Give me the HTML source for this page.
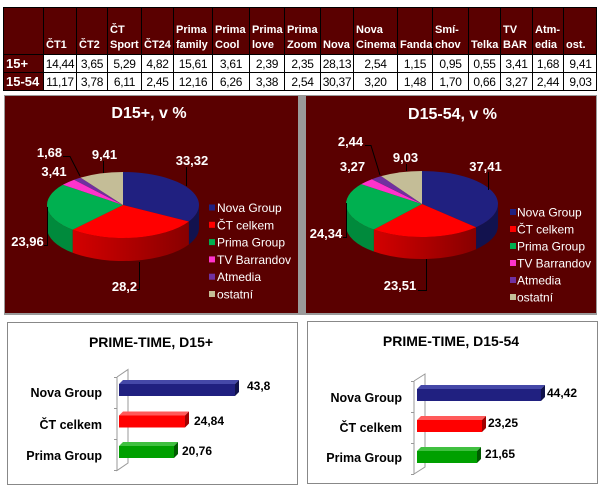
<!DOCTYPE html>
<html><head><meta charset="utf-8"><style>
html,body{margin:0;padding:0;background:#fff;}
svg{display:block;}
text{font-family:"Liberation Sans","DejaVu Sans",sans-serif;}
.h{font-size:11px;font-weight:bold;fill:#fff;}
.d{font-size:12px;fill:#000;text-anchor:middle;letter-spacing:-0.3px;}
.r{font-size:13px;font-weight:bold;fill:#fff;}
.pl{font-size:13px;font-weight:bold;fill:#fff;}
.lg{font-size:12px;fill:#fff;}
.bt{font-size:14px;font-weight:bold;fill:#000;text-anchor:middle;}
.cat{font-size:12.5px;font-weight:bold;fill:#000;text-anchor:end;}
.bv{font-size:12px;font-weight:bold;fill:#000;}
</style></head><body>
<svg width="602" height="488" viewBox="0 0 602 488" xmlns="http://www.w3.org/2000/svg">
<defs>
<linearGradient id="rs1" x1="72" y1="0" x2="189" y2="0" gradientUnits="userSpaceOnUse"><stop offset="0" stop-color="#d40000"/><stop offset="1" stop-color="#880000"/></linearGradient>
<linearGradient id="rs2" x1="373" y1="0" x2="476" y2="0" gradientUnits="userSpaceOnUse"><stop offset="0" stop-color="#d40000"/><stop offset="1" stop-color="#880000"/></linearGradient>
</defs>
<rect width="602" height="488" fill="#fff"/>

<!-- TABLE -->
<rect x="3" y="7" width="594" height="47" fill="#5a0000"/>
<rect x="3" y="54" width="40" height="37" fill="#5a0000"/>
<g stroke="#000" stroke-width="1">
<line x1="3" y1="7.5" x2="597" y2="7.5"/>
<line x1="3" y1="54.5" x2="597" y2="54.5"/>
<line x1="3" y1="72.5" x2="597" y2="72.5"/>
<line x1="3" y1="90.5" x2="597" y2="90.5"/>
<line x1="3.5" y1="7" x2="3.5" y2="91"/>
<line x1="43.5" y1="7" x2="43.5" y2="91"/>
<line x1="76.5" y1="7" x2="76.5" y2="91"/>
<line x1="107.5" y1="7" x2="107.5" y2="91"/>
<line x1="141.5" y1="7" x2="141.5" y2="91"/>
<line x1="173.5" y1="7" x2="173.5" y2="91"/>
<line x1="212.5" y1="7" x2="212.5" y2="91"/>
<line x1="249.5" y1="7" x2="249.5" y2="91"/>
<line x1="284.5" y1="7" x2="284.5" y2="91"/>
<line x1="320.5" y1="7" x2="320.5" y2="91"/>
<line x1="353.5" y1="7" x2="353.5" y2="91"/>
<line x1="397.5" y1="7" x2="397.5" y2="91"/>
<line x1="432.5" y1="7" x2="432.5" y2="91"/>
<line x1="468.5" y1="7" x2="468.5" y2="91"/>
<line x1="500.5" y1="7" x2="500.5" y2="91"/>
<line x1="532.5" y1="7" x2="532.5" y2="91"/>
<line x1="563.5" y1="7" x2="563.5" y2="91"/>
<line x1="596.5" y1="7" x2="596.5" y2="91"/>
</g>
<!-- header labels -->
<text class="h" x="46" y="48">ČT1</text>
<text class="h" x="79" y="48">ČT2</text>
<text class="h" x="110" y="33">ČT</text><text class="h" x="110" y="48">Sport</text>
<text class="h" x="144" y="48">ČT24</text>
<text class="h" x="176" y="33">Prima</text><text class="h" x="176" y="48">family</text>
<text class="h" x="215" y="33">Prima</text><text class="h" x="215" y="48">Cool</text>
<text class="h" x="252" y="33">Prima</text><text class="h" x="252" y="48">love</text>
<text class="h" x="287" y="33">Prima</text><text class="h" x="287" y="48">Zoom</text>
<text class="h" x="323" y="48">Nova</text>
<text class="h" x="356" y="33">Nova</text><text class="h" x="356" y="48">Cinema</text>
<text class="h" x="400" y="48">Fanda</text>
<text class="h" x="435" y="33">Smí-</text><text class="h" x="435" y="48">chov</text>
<text class="h" x="471" y="48">Telka</text>
<text class="h" x="503" y="33">TV</text><text class="h" x="503" y="48">BAR</text>
<text class="h" x="535" y="33">Atm-</text><text class="h" x="535" y="48">edia</text>
<text class="h" x="566" y="48">ost.</text>
<text class="r" x="6" y="68">15+</text>
<text class="r" x="6" y="86">15-54</text>
<!-- row 1 -->
<text class="d" x="60" y="68">14,44</text>
<text class="d" x="92" y="68">3,65</text>
<text class="d" x="124.5" y="68">5,29</text>
<text class="d" x="157.5" y="68">4,82</text>
<text class="d" x="193" y="68">15,61</text>
<text class="d" x="231" y="68">3,61</text>
<text class="d" x="267" y="68">2,39</text>
<text class="d" x="302.5" y="68">2,35</text>
<text class="d" x="337" y="68">28,13</text>
<text class="d" x="375.5" y="68">2,54</text>
<text class="d" x="415" y="68">1,15</text>
<text class="d" x="450.5" y="68">0,95</text>
<text class="d" x="484.5" y="68">0,55</text>
<text class="d" x="516.5" y="68">3,41</text>
<text class="d" x="548" y="68">1,68</text>
<text class="d" x="580.5" y="68">9,41</text>
<!-- row 2 -->
<text class="d" x="60" y="86">11,17</text>
<text class="d" x="92" y="86">3,78</text>
<text class="d" x="124.5" y="86">6,11</text>
<text class="d" x="157.5" y="86">2,45</text>
<text class="d" x="193" y="86">12,16</text>
<text class="d" x="231" y="86">6,26</text>
<text class="d" x="267" y="86">3,38</text>
<text class="d" x="302.5" y="86">2,54</text>
<text class="d" x="337" y="86">30,37</text>
<text class="d" x="375.5" y="86">3,20</text>
<text class="d" x="415" y="86">1,48</text>
<text class="d" x="450.5" y="86">1,70</text>
<text class="d" x="484.5" y="86">0,66</text>
<text class="d" x="516.5" y="86">3,27</text>
<text class="d" x="548" y="86">2,44</text>
<text class="d" x="580.5" y="86">9,03</text>

<!-- PIE PANELS -->
<rect x="4" y="95" width="593" height="220" fill="#9a9a9a"/>
<rect x="5" y="96" width="293" height="217" fill="#5a0000"/>
<rect x="306" y="96" width="290" height="217" fill="#5a0000"/>

<!-- Pie 1 -->
<text x="149" y="118" font-size="16" font-weight="bold" fill="#fff" text-anchor="middle">D15+, v %</text>
<path d="M199,205 A76,33 0 0 1 188.85,221.47 L188.85,244.47 A76,33 0 0 0 199,228 Z" fill="#12124e"/>
<path d="M188.85,221.47 A76,33 0 0 1 72.67,229.73 L72.67,252.73 A76,33 0 0 0 188.85,244.47 Z" fill="url(#rs1)"/>
<path d="M72.67,229.73 A76,33 0 0 1 47,205 L47,228 A76,33 0 0 0 72.67,252.73 Z" fill="#008a3c"/>
<path d="M123,205 L123,172 A76,33 0 0 1 188.85,221.47 Z" fill="#202080"/>
<path d="M123,205 L188.85,221.47 A76,33 0 0 1 72.67,229.73 Z" fill="#ff0000"/>
<path d="M123,205 L72.67,229.73 A76,33 0 0 1 62.88,184.81 Z" fill="#00b050"/>
<path d="M123,205 L62.88,184.81 A76,33 0 0 1 74.15,179.72 Z" fill="#ff33cc"/>
<path d="M123,205 L74.15,179.72 A76,33 0 0 1 80.56,177.63 Z" fill="#7030a0"/>
<path d="M123,205 L80.56,177.63 A76,33 0 0 1 123,172 Z" fill="#c4bd97"/>
<g stroke="#000" stroke-width="1" fill="none">
<polyline points="186.5,167 186.5,186"/>
<polyline points="136,289.5 139.5,289.5 139.5,262"/>
<polyline points="44,245.5 47.5,245.5 47.5,207"/>
<polyline points="63,156.5 70,156.5 80,176"/>
<polyline points="103.5,161 103.5,173"/>
</g>
<text class="pl" x="192" y="165" text-anchor="middle">33,32</text>
<text class="pl" x="124.5" y="291" text-anchor="middle">28,2</text>
<text class="pl" x="27.5" y="246" text-anchor="middle">23,96</text>
<text class="pl" x="49.5" y="157" text-anchor="middle">1,68</text>
<text class="pl" x="54" y="176" text-anchor="middle">3,41</text>
<text class="pl" x="104.5" y="159" text-anchor="middle">9,41</text>
<!-- legend 1 -->
<rect x="209" y="204.5" width="6" height="6" fill="#202080"/><text class="lg" x="217" y="212">Nova Group</text>
<rect x="209" y="221.8" width="6" height="6" fill="#ff0000"/><text class="lg" x="217" y="229.3">ČT celkem</text>
<rect x="209" y="239.1" width="6" height="6" fill="#00b050"/><text class="lg" x="217" y="246.6">Prima Group</text>
<rect x="209" y="256.4" width="6" height="6" fill="#ff33cc"/><text class="lg" x="217" y="263.9">TV Barrandov</text>
<rect x="209" y="273.7" width="6" height="6" fill="#7030a0"/><text class="lg" x="217" y="281.2">Atmedia</text>
<rect x="209" y="291" width="6" height="6" fill="#c4bd97"/><text class="lg" x="217" y="298.5">ostatní</text>

<!-- Pie 2 -->
<text x="452.5" y="119" font-size="16" font-weight="bold" fill="#fff" text-anchor="middle">D15-54, v %</text>
<path d="M498,204 A76,33 0 0 1 476.04,227.2 L476.04,249.2 A76,33 0 0 0 498,226 Z" fill="#12124e"/>
<path d="M476.04,227.2 A76,33 0 0 1 373.86,229.54 L373.86,251.54 A76,33 0 0 0 476.04,249.2 Z" fill="url(#rs2)"/>
<path d="M373.86,229.54 A76,33 0 0 1 346,204 L346,226 A76,33 0 0 0 373.86,251.54 Z" fill="#008a3c"/>
<path d="M422,204 L422,171 A76,33 0 0 1 476.04,227.2 Z" fill="#202080"/>
<path d="M422,204 L476.04,227.2 A76,33 0 0 1 373.86,229.54 Z" fill="#ff0000"/>
<path d="M422,204 L373.86,229.54 A76,33 0 0 1 361.24,184.18 Z" fill="#00b050"/>
<path d="M422,204 L361.24,184.18 A76,33 0 0 1 371.84,179.21 Z" fill="#ff33cc"/>
<path d="M422,204 L371.84,179.21 A76,33 0 0 1 381.16,176.17 Z" fill="#7030a0"/>
<path d="M422,204 L381.16,176.17 A76,33 0 0 1 422,171 Z" fill="#c4bd97"/>
<g stroke="#000" stroke-width="1" fill="none">
<polyline points="488.5,172 488.5,190"/>
<polyline points="418,290.5 426.5,290.5 426.5,259"/>
<polyline points="343,237.5 346.5,237.5 346.5,203"/>
<polyline points="365,145.5 371,145.5 380,175"/>
<polyline points="406.5,164 406.5,171"/>
</g>
<text class="pl" x="485.5" y="171" text-anchor="middle">37,41</text>
<text class="pl" x="400" y="290" text-anchor="middle">23,51</text>
<text class="pl" x="326" y="238" text-anchor="middle">24,34</text>
<text class="pl" x="350.5" y="146" text-anchor="middle">2,44</text>
<text class="pl" x="352.5" y="171" text-anchor="middle">3,27</text>
<text class="pl" x="405.5" y="162" text-anchor="middle">9,03</text>
<!-- legend 2 -->
<rect x="510" y="209" width="6" height="6" fill="#202080"/><text class="lg" x="517" y="216.5">Nova Group</text>
<rect x="510" y="226" width="6" height="6" fill="#ff0000"/><text class="lg" x="517" y="233.5">ČT celkem</text>
<rect x="510" y="243" width="6" height="6" fill="#00b050"/><text class="lg" x="517" y="250.5">Prima Group</text>
<rect x="510" y="260" width="6" height="6" fill="#ff33cc"/><text class="lg" x="517" y="267.5">TV Barrandov</text>
<rect x="510" y="277" width="6" height="6" fill="#7030a0"/><text class="lg" x="517" y="284.5">Atmedia</text>
<rect x="510" y="294" width="6" height="6" fill="#c4bd97"/><text class="lg" x="517" y="301.5">ostatní</text>

<!-- BAR PANEL 1 -->
<rect x="7.5" y="322.5" width="290" height="162" fill="#fff" stroke="#888"/>
<text class="bt" x="151" y="347">PRIME-TIME, D15+</text>
<g stroke="#999" stroke-width="1" fill="none">
<polyline points="117,377 128,369.5 128,463 117,470.5 117,377"/>
<line x1="114" y1="377.5" x2="117" y2="377.5"/>
<line x1="114" y1="408.5" x2="117" y2="408.5"/>
<line x1="114" y1="439.5" x2="117" y2="439.5"/>
<line x1="114" y1="470.5" x2="117" y2="470.5"/>
</g>
<polygon points="119,384 123,380 239,380 235,384" fill="#4548a8"/>
<polygon points="235,384 239,380 239,392 235,396" fill="#10124a"/>
<rect x="119" y="384" width="116" height="12" fill="#202080"/>
<polygon points="119,415.5 123,411.5 189,411.5 185,415.5" fill="#ff5a5a"/>
<polygon points="185,415.5 189,411.5 189,423.5 185,427.5" fill="#a00000"/>
<rect x="119" y="415.5" width="66" height="12" fill="#ff0000"/>
<polygon points="119,446 123,442 178,442 174,446" fill="#40c040"/>
<polygon points="174,446 178,442 178,454 174,458" fill="#005a00"/>
<rect x="119" y="446" width="55" height="12" fill="#00a000"/>
<text class="bv" x="247" y="390">43,8</text>
<text class="bv" x="194" y="425">24,84</text>
<text class="bv" x="182" y="455">20,76</text>
<text class="cat" x="102" y="397">Nova Group</text>
<text class="cat" x="102" y="429">ČT celkem</text>
<text class="cat" x="102" y="460">Prima Group</text>

<!-- BAR PANEL 2 -->
<rect x="307.5" y="321.5" width="290" height="162" fill="#fff" stroke="#888"/>
<text class="bt" x="451" y="346">PRIME-TIME, D15-54</text>
<g stroke="#999" stroke-width="1" fill="none">
<polyline points="414,381 425,374 425,467 414,474 414,381"/>
<line x1="411" y1="381.5" x2="414" y2="381.5"/>
<line x1="411" y1="412.5" x2="414" y2="412.5"/>
<line x1="411" y1="443.5" x2="414" y2="443.5"/>
<line x1="411" y1="474.5" x2="414" y2="474.5"/>
</g>
<polygon points="417,389 421,385 545,385 541,389" fill="#4548a8"/>
<polygon points="541,389 545,385 545,397 541,401" fill="#10124a"/>
<rect x="417" y="389" width="124" height="12" fill="#202080"/>
<polygon points="417,420 421,416 486,416 482,420" fill="#ff5a5a"/>
<polygon points="482,420 486,416 486,428 482,432" fill="#a00000"/>
<rect x="417" y="420" width="65" height="12" fill="#ff0000"/>
<polygon points="417,451 421,447 481,447 477,451" fill="#40c040"/>
<polygon points="477,451 481,447 481,459 477,463" fill="#005a00"/>
<rect x="417" y="451" width="60" height="12" fill="#00a000"/>
<text class="bv" x="547" y="397">44,42</text>
<text class="bv" x="488" y="427">23,25</text>
<text class="bv" x="485" y="458">21,65</text>
<text class="cat" x="402" y="402">Nova Group</text>
<text class="cat" x="402" y="432">ČT celkem</text>
<text class="cat" x="402" y="462">Prima Group</text>
</svg>
</body></html>
